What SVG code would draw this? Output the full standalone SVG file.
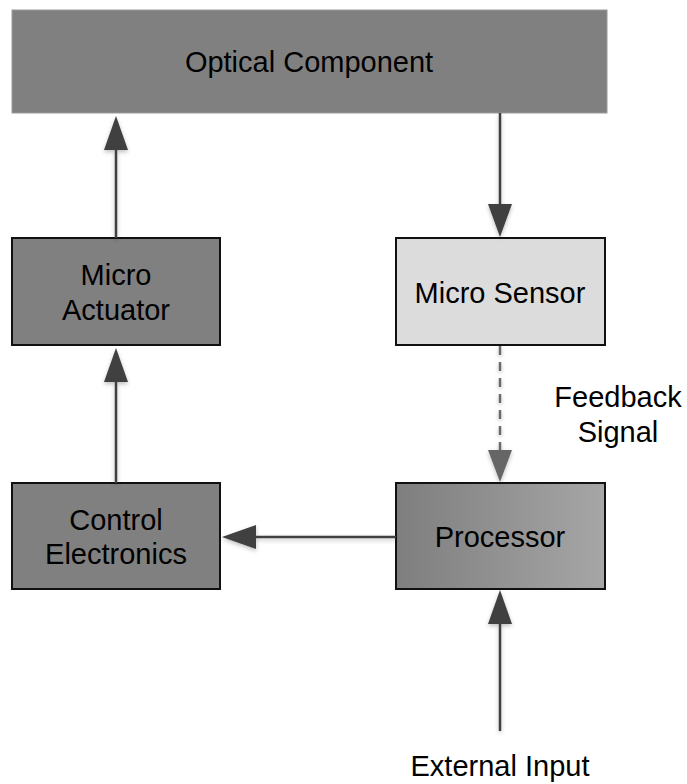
<svg xmlns="http://www.w3.org/2000/svg" width="687" height="784" viewBox="0 0 687 784">
<style>
text{font-family:"Liberation Sans",Arial,sans-serif;font-size:29px;fill:#000;text-anchor:middle}
.box{stroke:#111;stroke-width:2}
.ln{stroke:#404040;stroke-width:2.5;fill:none}
.dash{stroke:#6a6a6a;stroke-width:2.5;fill:none;stroke-dasharray:9,7}
</style>
<defs>
<linearGradient id="pg" x1="0" y1="0" x2="1" y2="0">
<stop offset="0" stop-color="#7e7e7e"/>
<stop offset="1" stop-color="#a6a6a6"/>
</linearGradient>
<filter id="sh" x="-50%" y="-50%" width="200%" height="200%">
<feDropShadow dx="0" dy="2" stdDeviation="2" flood-color="#000" flood-opacity="0.25"/>
</filter>
</defs>
<g id="optical">
<rect x="12" y="10" width="595" height="103" fill="#808080" stroke="#9a9a9a" stroke-width="1"/>
<text x="309" y="72">Optical Component</text>
</g>
<g id="actuator">
<rect class="box" x="12" y="238" width="208" height="107" fill="#808080"/>
<text x="116" y="285">Micro</text>
<text x="116" y="320">Actuator</text>
</g>
<g id="sensor">
<rect class="box" x="396" y="238" width="209" height="107" fill="#dcdcdc"/>
<text x="500" y="303">Micro Sensor</text>
</g>
<g id="control">
<rect class="box" x="12" y="483" width="208" height="106" fill="#808080"/>
<text x="116" y="530">Control</text>
<text x="116" y="564">Electronics</text>
</g>
<g id="processor">
<rect class="box" x="396" y="483" width="209" height="106" fill="url(#pg)"/>
<text x="500" y="547">Processor</text>
</g>
<g id="connectors" filter="url(#sh)">
<line class="ln" x1="116" y1="238" x2="116" y2="148"/>
<path d="M116,116 L128,150 L104,150 Z" fill="#404040"/>
<line class="ln" x1="116" y1="483" x2="116" y2="380"/>
<path d="M116,348 L128,382 L104,382 Z" fill="#404040"/>
<line class="ln" x1="500" y1="113" x2="500" y2="206"/>
<path d="M500,237 L512,204 L488,204 Z" fill="#404040"/>
<line class="dash" x1="500" y1="346" x2="500" y2="452"/>
<path d="M500,482 L512,450 L488,450 Z" fill="#666666"/>
<line class="ln" x1="396" y1="537" x2="254" y2="537"/>
<path d="M222,537 L256,525 L256,549 Z" fill="#404040"/>
<line class="ln" x1="500" y1="731" x2="500" y2="622"/>
<path d="M500,590 L512,624 L488,624 Z" fill="#404040"/>
</g>
<g id="labels">
<text x="618" y="407">Feedback</text>
<text x="618" y="442">Signal</text>
<text x="500" y="776">External Input</text>
</g>
</svg>
